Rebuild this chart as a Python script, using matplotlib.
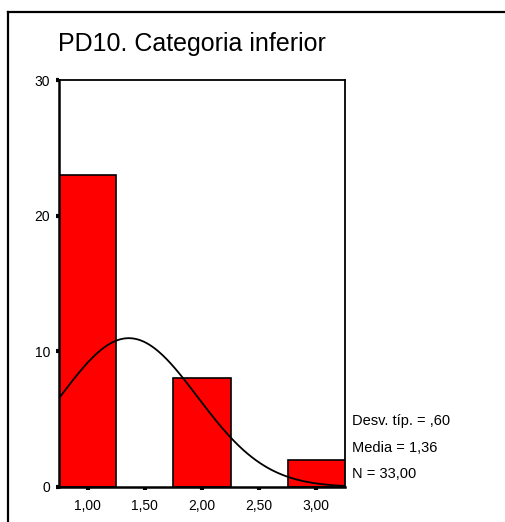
import numpy as np
import matplotlib
matplotlib.use("Agg")
import matplotlib.pyplot as plt
from matplotlib.lines import Line2D

plt.rcParams['font.family'] = ['Liberation Sans', 'DejaVu Sans']

# Data
bin_centers = [1.0, 2.0, 3.0]
counts = [23, 8, 2]
bin_width = 0.5
xticks = [1.0, 1.5, 2.0, 2.5, 3.0]
xtick_labels = ['1,00', '1,50', '2,00', '2,50', '3,00']
yticks = [0, 10, 20, 30]

# Stats printed on the chart
sd = 0.60
mean = 1.36
n = 33
stats_lines = ['Desv. típ. = ,60', 'Media = 1,36', 'N = 33,00']

fig = plt.figure(figsize=(5.05, 5.22), dpi=100)
ax = fig.add_axes([59 / 505, 35 / 522, 286 / 505, 407 / 522])

ax.bar(bin_centers, counts, width=bin_width, color='#ff0000',
       edgecolor='black', linewidth=1.2, zorder=2)

# normal curve fitted from mean / sd / N
xs = np.linspace(0.75, 3.25, 200)
ys = n * bin_width / (sd * np.sqrt(2 * np.pi)) * np.exp(-0.5 * ((xs - mean) / sd) ** 2)
ax.plot(xs, ys, color='black', linewidth=1.3, zorder=3)

ax.set_xlim(0.75, 3.25)
ax.set_ylim(0, 30)
ax.set_xticks(xticks)
ax.set_xticklabels(xtick_labels)
ax.set_yticks(yticks)
ax.tick_params(direction='out', length=2.5, width=3, color='black',
               labelsize=10, pad=4)
ax.tick_params(axis='x', pad=6)
for s in ax.spines.values():
    s.set_linewidth(1.3)
ax.spines['left'].set_linewidth(1.8)
ax.spines['bottom'].set_linewidth(1.8)

fig.text(58 / 505, 1 - 44 / 522, 'PD10. Categoria inferior', fontsize=18,
         ha='left', va='center')

for i, line in enumerate(stats_lines):
    fig.text(352 / 505, 1 - (421 + i * 26.5) / 522, line, fontsize=10.5,
             ha='left', va='center')

# outer frame (only top and left edges visible)
fig.add_artist(Line2D([8 / 505, 8 / 505], [0, 1 - 12 / 522], transform=fig.transFigure,
                      color='black', linewidth=1.6))
fig.add_artist(Line2D([8 / 505, 1], [1 - 12 / 522, 1 - 12 / 522], transform=fig.transFigure,
                      color='black', linewidth=1.6))

fig.savefig('out.png', dpi=100)
